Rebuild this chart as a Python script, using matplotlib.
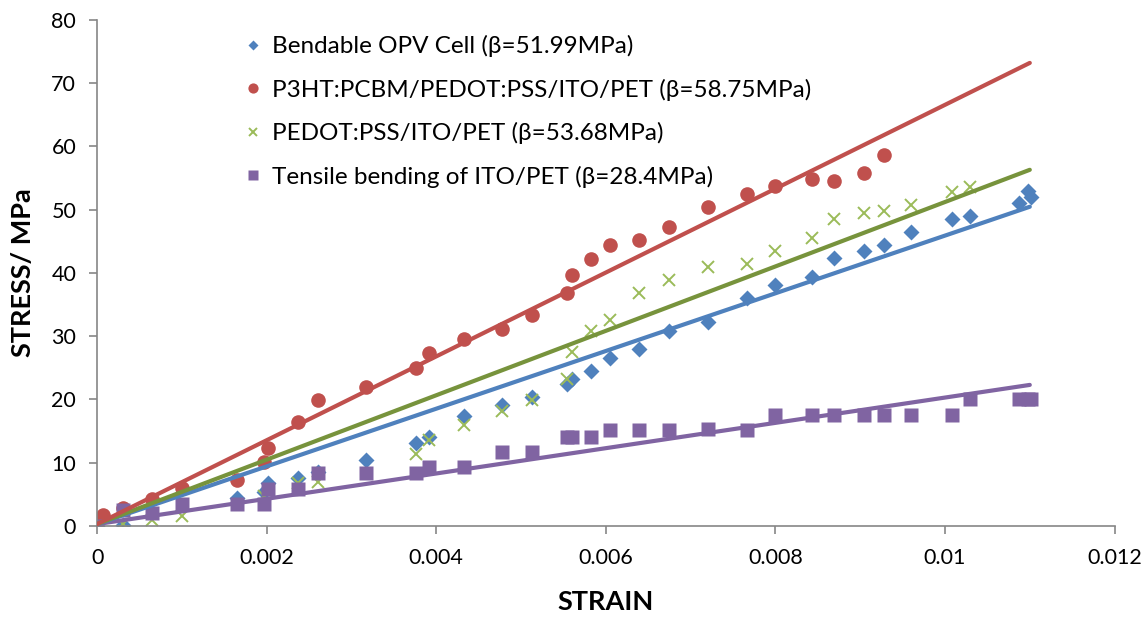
import matplotlib
matplotlib.use("Agg")
import matplotlib.pyplot as plt
import numpy as np

plt.rcParams["font.family"] = ["Lato", "DejaVu Sans"]

# colours (Excel 2007 palette)
c_blue, c_red, c_green, c_purple = "#4F81BD", "#C0504D", "#9BBB59", "#8064A2"
c_green_line = "#77933C"
c_axis = "#868686"

# --- data ---
opv_x = [0, 0.0003, 0.00165, 0.00197, 0.00202, 0.00237, 0.0026, 0.00317, 0.00376, 0.00391,
         0.00433, 0.00478, 0.00513, 0.00554, 0.0056, 0.00582, 0.00605, 0.00639, 0.00674, 0.0072,
         0.00766, 0.008, 0.00843, 0.00869, 0.00904, 0.00928, 0.0096, 0.01008, 0.0103, 0.01087,
         0.01098, 0.01101]
opv_y = [0, 0.2, 4.5, 5.4, 6.8, 7.6, 8.6, 10.5, 13.1, 14.0,
         17.4, 19.1, 20.4, 22.4, 23.2, 24.5, 26.6, 27.9, 30.9, 32.2,
         36.0, 38.1, 39.4, 42.4, 43.4, 44.4, 46.5, 48.6, 49.0, 51.1,
         52.9, 52.0]

p3ht_x = [0.00007, 0.0003, 0.00065, 0.001, 0.00165, 0.00197, 0.00202, 0.00237, 0.0026, 0.00317,
          0.00376, 0.00391, 0.00433, 0.00478, 0.00513, 0.00554, 0.0056, 0.00582, 0.00605, 0.00639,
          0.00674, 0.0072, 0.00766, 0.008, 0.00843, 0.00869, 0.00904, 0.00928]
p3ht_y = [1.7, 2.9, 4.3, 6.0, 7.2, 10.1, 12.3, 16.4, 19.9, 22.0,
          25.0, 27.4, 29.6, 31.2, 33.4, 36.8, 39.7, 42.2, 44.4, 45.2,
          47.3, 50.4, 52.4, 53.7, 54.9, 54.5, 55.8, 58.7]

pedot_x = [0, 0.0003, 0.00065, 0.001, 0.00197, 0.00237, 0.0026, 0.00376, 0.00391, 0.00433,
           0.00478, 0.00513, 0.00554, 0.0056, 0.00582, 0.00605, 0.00639, 0.00674, 0.0072, 0.00766,
           0.008, 0.00843, 0.00869, 0.00904, 0.00928, 0.0096, 0.01008, 0.0103]
pedot_y = [0, 0.3, 1.0, 1.6, 4.8, 6.8, 7.0, 11.4, 13.6, 16.0,
           18.1, 19.9, 23.2, 27.5, 30.8, 32.5, 36.8, 38.9, 41.0, 41.4,
           43.5, 45.6, 48.6, 49.5, 49.8, 50.7, 52.8, 53.6]

ito_x = [0, 0.0003, 0.00065, 0.001, 0.00165, 0.00197, 0.00202, 0.00237, 0.0026, 0.00317,
         0.00376, 0.00391, 0.00433, 0.00478, 0.00513, 0.00554, 0.0056, 0.00582, 0.00605, 0.00639,
         0.00674, 0.0072, 0.00766, 0.008, 0.00843, 0.00869, 0.00904, 0.00928, 0.0096, 0.01008,
         0.0103, 0.01087, 0.01098, 0.01101]
ito_y = [0, 2.6, 2.1, 3.4, 3.5, 3.5, 5.9, 5.9, 8.3, 8.3,
         8.3, 9.3, 9.4, 11.7, 11.7, 14.1, 14.1, 14.1, 15.2, 15.2,
         15.2, 15.3, 15.2, 17.6, 17.6, 17.6, 17.6, 17.6, 17.6, 17.6,
         20.0, 20.0, 20.0, 20.0]

# linear trendlines: slope (MPa per unit strain), intercept (MPa)
fit_slope = {"opv": 4560, "p3ht": 6627, "pedot": 5091, "ito": 2000}
fit_intercept = {"opv": 0.3, "p3ht": 0.3, "pedot": 0.3, "ito": 0.3}
fit_range = [0, 0.011]

labels = {
    "opv": "Bendable OPV Cell (β=51.99MPa)",
    "p3ht": "P3HT:PCBM/PEDOT:PSS/ITO/PET (β=58.75MPa)",
    "pedot": "PEDOT:PSS/ITO/PET (β=53.68MPa)",
    "ito": "Tensile bending of ITO/PET (β=28.4MPa)",
}

x_ticks = [0, 0.002, 0.004, 0.006, 0.008, 0.01, 0.012]
y_ticks = [0, 10, 20, 30, 40, 50, 60, 70, 80]

fig = plt.figure(figsize=(11.42, 6.21), dpi=100)
ax = fig.add_axes([0.085, 0.153, 0.891, 0.815])

# trendlines
xf = np.array(fit_range)
line_col = {"opv": c_blue, "p3ht": c_red, "pedot": c_green_line, "ito": c_purple}
for key in ["ito", "opv", "pedot", "p3ht"]:
    ax.plot(xf, fit_intercept[key] + fit_slope[key] * xf, c=line_col[key], lw=3,
            solid_capstyle="round", zorder=3)

# markers
h1, = ax.plot(opv_x, opv_y, ls="none", marker="D", ms=8, c=c_blue, mec="none", label=labels["opv"], zorder=2)
h2, = ax.plot(p3ht_x, p3ht_y, ls="none", marker="o", ms=10.5, c=c_red, mec="none", label=labels["p3ht"], zorder=2)
h3, = ax.plot(pedot_x, pedot_y, ls="none", marker="x", ms=8.5, mew=1.4, c=c_green, label=labels["pedot"], zorder=2)
h4, = ax.plot(ito_x, ito_y, ls="none", marker="s", ms=9.5, c=c_purple, mec="none", label=labels["ito"], zorder=2)

ax.set_xlim(0, 0.012)
ax.set_ylim(0, 80)
ax.set_xticks(x_ticks)
ax.set_xticklabels([f"{v:g}" for v in x_ticks])
ax.set_yticks(y_ticks)
ax.tick_params(axis="both", labelsize=15.5, color=c_axis, length=6, width=1.2, direction="out")
ax.tick_params(axis="x", pad=10)
ax.tick_params(axis="y", pad=9)

for s in ["top", "right"]:
    ax.spines[s].set_visible(False)
for s in ["left", "bottom"]:
    ax.spines[s].set_color(c_axis)
    ax.spines[s].set_linewidth(1.2)

ax.set_xlabel("STRAIN", fontsize=19.5, fontweight="bold", labelpad=16)
ax.set_ylabel("STRESS/ MPa", fontsize=19.5, fontweight="bold", labelpad=12)

leg = ax.legend(handles=[h1, h2, h3, h4], loc="upper left", bbox_to_anchor=(0.122, 1.013),
                frameon=False, fontsize=17.5, markerscale=0.7, handlelength=0.8,
                handletextpad=0.4, labelspacing=0.88)

fig.savefig("out.png", dpi=100)
